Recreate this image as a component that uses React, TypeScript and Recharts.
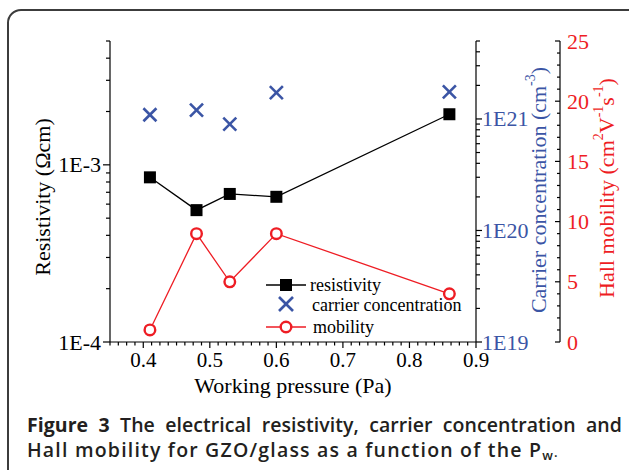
import React from 'react';
import { ComposedChart, Line, XAxis, YAxis, Legend } from 'recharts';

// ---- data ----
const pressure = [0.41, 0.48, 0.53, 0.6, 0.86];
const resistivity = [8.5e-4, 5.55e-4, 6.85e-4, 6.6e-4, 1.93e-3];
const carrierConcentration = [1.09e21, 1.2e21, 9.0e20, 1.72e21, 1.75e21];
const mobility = [1.0, 9.0, 5.0, 9.0, 4.0];

// ---- tick labels ----
const xTickLabels = [0.4, 0.5, 0.6, 0.7, 0.8, 0.9];
const resTickLabels = ['1E-4', '1E-3'];
const ccTickLabels = ['1E19', '1E20', '1E21'];
const mobTickLabels = [0, 5, 10, 15, 20, 25];

const BLUE = '#3b55a5';
const RED = '#ee1d24';
const SERIF = "'Liberation Serif', 'Times New Roman', serif";
const SANS = "'Open Sans', 'Noto Sans', sans-serif";
const serifStyle = { fontFamily: SERIF };

const data = pressure.map((p, i) => ({
  p,
  res: resistivity[i],
  cc: carrierConcentration[i],
  mob: mobility[i],
}));

const logTicks = (decades: number[], lastMax: number) => {
  const out: number[] = [];
  decades.forEach((e, di) => {
    const maxM = di === decades.length - 1 ? lastMax : 9;
    for (let m = 1; m <= maxM; m++) out.push(Number((m * Math.pow(10, e)).toPrecision(6)));
  });
  return out;
};
const resTicks = logTicks([-4, -3], 5);
const ccTicks = logTicks([19, 20, 21], 5);
const mobTicks = Array.from({ length: 26 }, (_, i) => i);
const xBottomTicks = Array.from({ length: 45 }, (_, i) => Number((0.35 + i * 0.0125).toFixed(4)));
const xTopTicks = Array.from({ length: 12 }, (_, i) => Number((0.35 + i * 0.05).toFixed(3)));

const isDecade = (v: number) => {
  const l = Math.log10(v);
  return Math.abs(l - Math.round(l)) < 1e-6;
};
const decadeLabel = (v: number, labels: string[]) =>
  labels.find((s) => Math.abs(Number(s) - v) / v < 1e-6) || '';

const LeftTick = (props: any) => {
  const { x, y, payload } = props;
  const v = payload.value;
  const major = isDecade(v);
  return (
    <g>
      <line x1={x} x2={x - (major ? 7 : 4)} y1={y} y2={y} stroke="#000" strokeWidth={1.2} />
      {major && (
        <text x={x - 9} y={y} textAnchor="end" dominantBaseline="central" fontSize={22} style={serifStyle} fill="#000">
          {decadeLabel(v, resTickLabels)}
        </text>
      )}
    </g>
  );
};

const CcTick = (props: any) => {
  const { x, y, payload } = props;
  const v = payload.value;
  const major = isDecade(v);
  return (
    <g>
      <line x1={x} x2={x + (major ? 6 : 4)} y1={y} y2={y} stroke="#000" strokeWidth={1.2} />
      {major && (
        <text x={x + 6} y={y} textAnchor="start" dominantBaseline="central" fontSize={22} style={serifStyle} fill={BLUE}>
          {decadeLabel(v, ccTickLabels)}
        </text>
      )}
    </g>
  );
};

const MobTick = (props: any) => {
  const { x, y, payload } = props;
  const v = payload.value;
  const major = mobTickLabels.includes(v);
  return (
    <g>
      <line x1={x} x2={x - (major ? 5 : 3)} y1={y} y2={y} stroke="#000" strokeWidth={1.2} />
      {major && (
        <text x={x + 7} y={y} textAnchor="start" dominantBaseline="central" fontSize={22} style={serifStyle} fill={RED}>
          {v}
        </text>
      )}
    </g>
  );
};

const BottomTick = (props: any) => {
  const { x, y, payload } = props;
  const v = payload.value;
  const major = xTickLabels.some((t) => Math.abs(t - v) < 1e-6);
  return (
    <g>
      <line x1={x} x2={x} y1={y} y2={y + (major ? 6 : 3.5)} stroke="#000" strokeWidth={1.2} />
      {major && (
        <text x={x} y={y + 18} textAnchor="middle" dominantBaseline="central" fontSize={21} style={serifStyle} fill="#000">
          {v.toFixed(1)}
        </text>
      )}
    </g>
  );
};

const TopTick = (props: any) => {
  const { x, y } = props;
  return <line x1={x} x2={x} y1={y} y2={y + 2.5} stroke="#000" strokeWidth={1.2} />;
};

const SquareDot = (props: any) => {
  const { cx, cy, index } = props;
  if (cx == null || cy == null) return <g key={`s${index}`} />;
  return <rect key={`s${index}`} x={cx - 6} y={cy - 6} width={12} height={12} fill="#000" />;
};
const CircleDot = (props: any) => {
  const { cx, cy, index } = props;
  if (cx == null || cy == null) return <g key={`c${index}`} />;
  return <circle key={`c${index}`} cx={cx} cy={cy} r={5.3} fill="#fff" stroke={RED} strokeWidth={2.4} />;
};
const CrossDot = (props: any) => {
  const { cx, cy, index } = props;
  if (cx == null || cy == null) return <g key={`x${index}`} />;
  const h = 6.5;
  return (
    <g key={`x${index}`}>
      <line x1={cx - h} y1={cy - h} x2={cx + h} y2={cy + h} stroke={BLUE} strokeWidth={2.6} />
      <line x1={cx - h} y1={cy + h} x2={cx + h} y2={cy - h} stroke={BLUE} strokeWidth={2.6} />
    </g>
  );
};

const LegendBox = () => (
  <svg width={230} height={66} style={{ display: 'block', overflow: 'visible' }}>
    <line x1={4} x2={44} y1={13} y2={13} stroke="#000" strokeWidth={1.3} />
    <rect x={18} y={7} width={12} height={12} fill="#000" />
    <text x={48} y={13} dominantBaseline="central" fontSize={18} style={serifStyle} fill="#000">resistivity</text>
    <line x1={17} y1={25} x2={31} y2={39} stroke={BLUE} strokeWidth={2.6} />
    <line x1={17} y1={39} x2={31} y2={25} stroke={BLUE} strokeWidth={2.6} />
    <text x={50} y={33} dominantBaseline="central" fontSize={18} style={serifStyle} fill="#000">carrier concentration</text>
    <line x1={4} x2={44} y1={55} y2={55} stroke={RED} strokeWidth={1.3} />
    <circle cx={24} cy={55} r={5.3} fill="#fff" stroke={RED} strokeWidth={2.4} />
    <text x={51} y={55} dominantBaseline="central" fontSize={18} style={serifStyle} fill="#000">mobility</text>
  </svg>
);

export default function App() {
  return (
    <div style={{ position: 'fixed', left: 0, top: 0, width: 629, height: 470, overflow: 'hidden', background: '#fff' }}>
      <div
        style={{
          position: 'absolute',
          left: 7,
          top: 9,
          width: 650,
          height: 500,
          border: '2px solid #3c3c3c',
          borderRadius: 14,
          boxSizing: 'border-box',
        }}
      />
      <div style={{ position: 'absolute', left: 0, top: 0 }}>
        <ComposedChart width={629} height={400} data={data} margin={{ top: 41, right: 0, bottom: 0, left: 0 }} style={serifStyle}>
          <XAxis
            dataKey="p"
            type="number"
            domain={[0.35, 0.9]}
            ticks={xBottomTicks}
            interval={0}
            allowDataOverflow
            height={58}
            tickSize={0}
            tickMargin={0}
            tickLine={false}
            axisLine={{ stroke: '#000', strokeWidth: 1.2 }}
            tick={<BottomTick />}
            label={() => (
              <text x={293} y={385} textAnchor="middle" dominantBaseline="central" fontSize={22} style={serifStyle} fill="#000">
                Working pressure (Pa)
              </text>
            )}
          />
          <XAxis
            xAxisId="top"
            orientation="top"
            dataKey="p"
            type="number"
            domain={[0.35, 0.9]}
            ticks={xTopTicks}
            interval={0}
            allowDataOverflow
            height={0}
            tickSize={0}
            tickMargin={0}
            tickLine={false}
            axisLine={{ stroke: '#000', strokeWidth: 1.2 }}
            tick={<TopTick />}
          />
          <YAxis
            yAxisId="res"
            orientation="left"
            type="number"
            scale="log"
            domain={[1e-4, 5e-3]}
            allowDataOverflow
            ticks={resTicks}
            interval={0}
            width={110}
            tickSize={0}
            tickMargin={0}
            tickLine={false}
            axisLine={{ stroke: '#000', strokeWidth: 1.2 }}
            tick={<LeftTick />}
            label={() => (
              <text transform="translate(42,197) rotate(-90)" textAnchor="middle" dominantBaseline="central" fontSize={22} style={serifStyle} fill="#000">
                Resistivity (Ωcm)
              </text>
            )}
          />
          <YAxis
            yAxisId="cc"
            orientation="right"
            type="number"
            scale="log"
            domain={[1e19, 5e21]}
            allowDataOverflow
            ticks={ccTicks}
            interval={0}
            width={84}
            tickSize={0}
            tickMargin={0}
            tickLine={false}
            axisLine={{ stroke: '#000', strokeWidth: 1.2 }}
            tick={<CcTick />}
            label={() => (
              <text transform="translate(538,190) rotate(-90)" textAnchor="middle" dominantBaseline="central" fontSize={22} style={serifStyle} fill={BLUE}>
                Carrier concentration (cm
                <tspan baselineShift="super" fontSize={14}>-3</tspan>
                )
              </text>
            )}
          />
          <YAxis
            yAxisId="mob"
            orientation="right"
            type="number"
            domain={[0, 25]}
            allowDataOverflow
            ticks={mobTicks}
            interval={0}
            width={69}
            tickSize={0}
            tickMargin={0}
            tickLine={false}
            axisLine={{ stroke: '#000', strokeWidth: 1.2 }}
            tick={<MobTick />}
            label={() => (
              <text transform="translate(606,188) rotate(-90)" textAnchor="middle" dominantBaseline="central" fontSize={22} style={serifStyle} fill={RED}>
                Hall mobility (cm
                <tspan baselineShift="super" fontSize={14}>2</tspan>
                V
                <tspan baselineShift="super" fontSize={14}>-1</tspan>
                s
                <tspan baselineShift="super" fontSize={14}>-1</tspan>
                )
              </text>
            )}
          />
          <Legend
            layout="vertical"
            align="center"
            verticalAlign="middle"
            wrapperStyle={{ left: 262, top: 272, width: 230, height: 66 }}
            content={() => <LegendBox />}
          />
          <Line
            yAxisId="res"
            dataKey="res"
            stroke="#000"
            strokeWidth={1.3}
            dot={SquareDot}
            activeDot={false}
            isAnimationActive={false}
          />
          <Line
            yAxisId="cc"
            dataKey="cc"
            stroke="none"
            dot={CrossDot}
            activeDot={false}
            isAnimationActive={false}
          />
          <Line
            yAxisId="mob"
            dataKey="mob"
            stroke={RED}
            strokeWidth={1.3}
            dot={CircleDot}
            activeDot={false}
            isAnimationActive={false}
          />
        </ComposedChart>
      </div>
      <div
        style={{
          position: 'absolute',
          left: 27,
          top: 412,
          width: 595,
          fontFamily: SANS,
          fontSize: 19.5,
          lineHeight: '25px',
          color: '#231f20',
          fontWeight: 600,
        }}
      >
        <div style={{ textAlign: 'justify', textAlignLast: 'justify', whiteSpace: 'nowrap' as any, letterSpacing: '0.05px' }}>
          <span style={{ fontWeight: 700 }}>Figure 3</span> The electrical resistivity, carrier concentration and
        </div>
        <div style={{ letterSpacing: '1.2px' }}>
          Hall mobility for GZO/glass as a function of the P<sub style={{ fontSize: 13, verticalAlign: -3 }}>w</sub>
          <span style={{ fontSize: 13 }}>.</span>
        </div>
      </div>
    </div>
  );
}
